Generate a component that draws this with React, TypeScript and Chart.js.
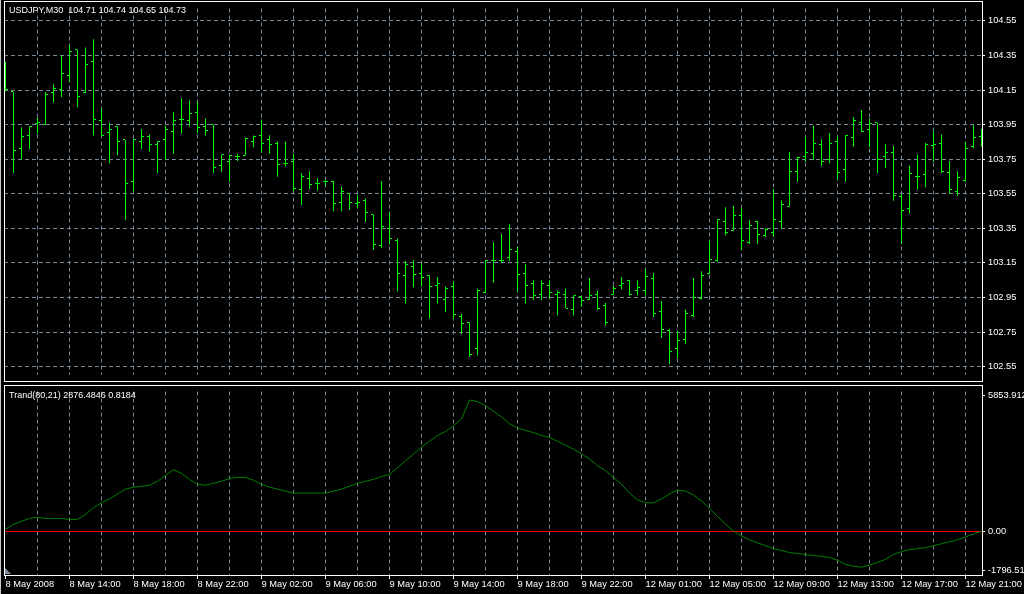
import React, { useEffect, useRef } from 'react';
import { Chart, registerables } from 'chart.js';

Chart.register(...registerables);

// ---------- DATA ----------
const symbolTitle = 'USDJPY,M30  104.71 104.74 104.65 104.73';
const indicatorTitle = 'Trand(80,21) 2876.4846 0.8184';

const opens = [
  104.30, 104.139, 103.809, 103.889, 103.957, 103.950, 104.133, 104.152, 104.235, 104.383,
  104.133, 104.313, 103.972, 103.902, 103.939, 103.861, 103.622, 103.852, 103.883, 103.833,
  103.861, 103.911, 103.981, 103.972, 104.022, 103.939, 103.948, 103.713, 103.739, 103.763,
  103.772, 103.852, 103.889, 103.861, 103.841, 103.726, 103.739, 103.572, 103.639, 103.611,
  103.620, 103.619, 103.500, 103.550, 103.491, 103.513, 103.430, 103.250, 103.350, 103.281,
  103.078, 103.128, 103.087, 103.078, 103.017, 102.939, 103.013, 102.841, 102.806, 102.652,
  102.976, 103.165, 103.165, 103.180, 103.217, 103.091, 103.028, 102.969, 103.019, 102.969,
  102.969, 102.878, 102.954, 102.939, 102.969, 102.902, 102.969, 103.017, 103.050, 102.991,
  102.991, 103.059, 102.869, 102.757, 102.652, 102.707, 102.846, 102.943, 103.091, 103.161,
  103.389, 103.337, 103.426, 103.269, 103.387, 103.309, 103.328, 103.389, 103.476, 103.676,
  103.763, 103.781, 103.833, 103.750, 103.850, 103.689, 103.874, 103.961, 103.924, 103.961,
  103.763, 103.791, 103.532, 103.463, 103.652, 103.661, 103.828, 103.841, 103.674, 103.565,
  103.628, 103.824, 103.883,
];
const highs = [
  104.313, 104.139, 103.935, 103.939, 103.989, 104.139, 104.183, 104.350, 104.411, 104.383,
  104.396, 104.444, 104.044, 103.961, 103.939, 103.861, 103.865, 103.924, 103.893, 103.852,
  103.943, 104.022, 104.102, 104.091, 104.083, 103.985, 103.948, 103.776, 103.776, 103.781,
  103.874, 103.887, 103.980, 103.889, 103.852, 103.852, 103.781, 103.670, 103.680, 103.639,
  103.633, 103.624, 103.591, 103.550, 103.541, 103.522, 103.430, 103.624, 103.444, 103.291,
  103.161, 103.167, 103.148, 103.078, 103.069, 103.013, 103.044, 102.856, 102.806, 103.000,
  103.167, 103.269, 103.319, 103.374, 103.244, 103.143, 103.050, 103.050, 103.050, 102.991,
  103.000, 102.961, 102.961, 103.063, 102.991, 102.920, 103.017, 103.069, 103.050, 103.050,
  103.115, 103.091, 102.930, 102.767, 102.757, 102.880, 103.063, 103.102, 103.276, 103.402,
  103.472, 103.480, 103.467, 103.398, 103.393, 103.350, 103.578, 103.513, 103.791, 103.763,
  103.878, 103.943, 103.865, 103.902, 103.880, 103.889, 103.994, 104.035, 103.985, 103.961,
  103.837, 103.828, 103.550, 103.713, 103.776, 103.843, 103.911, 103.893, 103.739, 103.680,
  103.850, 103.948, 103.924,
];
const lows = [
  104.143, 103.670, 103.750, 103.809, 103.898, 103.950, 104.078, 104.109, 104.198, 104.050,
  104.133, 103.887, 103.883, 103.726, 103.772, 103.398, 103.565, 103.809, 103.794, 103.670,
  103.744, 103.781, 103.898, 103.939, 103.902, 103.887, 103.670, 103.676, 103.620, 103.739,
  103.772, 103.819, 103.787, 103.781, 103.648, 103.707, 103.565, 103.485, 103.578, 103.569,
  103.596, 103.448, 103.448, 103.457, 103.467, 103.387, 103.226, 103.235, 103.257, 102.985,
  102.915, 103.009, 103.013, 102.828, 102.915, 102.865, 102.828, 102.739, 102.606, 102.615,
  102.976, 103.035, 103.152, 103.161, 102.985, 102.915, 102.935, 102.935, 102.944, 102.846,
  102.889, 102.846, 102.896, 102.935, 102.878, 102.787, 102.967, 102.998, 102.963, 102.963,
  102.961, 102.837, 102.717, 102.565, 102.600, 102.680, 102.837, 102.939, 103.087, 103.156,
  103.309, 103.337, 103.226, 103.259, 103.259, 103.300, 103.300, 103.350, 103.476, 103.620,
  103.735, 103.744, 103.711, 103.726, 103.633, 103.620, 103.822, 103.907, 103.819, 103.670,
  103.698, 103.509, 103.259, 103.435, 103.574, 103.587, 103.735, 103.670, 103.550, 103.537,
  103.620, 103.813, 103.822,
];
const closes = [
  104.152, 103.800, 103.883, 103.939, 103.961, 104.124, 104.161, 104.244, 104.374, 104.113,
  104.300, 103.981, 103.889, 103.924, 103.852, 103.611, 103.861, 103.883, 103.837, 103.852,
  103.920, 103.972, 103.981, 104.013, 103.935, 103.915, 103.704, 103.776, 103.772, 103.763,
  103.869, 103.883, 103.841, 103.837, 103.722, 103.726, 103.578, 103.652, 103.602, 103.611,
  103.620, 103.491, 103.561, 103.500, 103.500, 103.439, 103.259, 103.361, 103.291, 103.089,
  103.141, 103.080, 103.067, 103.011, 103.030, 103.000, 102.850, 102.800, 102.619, 102.989,
  103.161, 103.161, 103.165, 103.230, 103.080, 103.019, 102.963, 103.030, 102.980, 102.980,
  102.889, 102.961, 102.930, 102.963, 102.889, 102.806, 103.002, 103.030, 102.967, 103.009,
  103.069, 102.856, 102.767, 102.639, 102.702, 102.856, 102.952, 103.078, 103.167, 103.402,
  103.328, 103.426, 103.278, 103.365, 103.313, 103.341, 103.402, 103.489, 103.676, 103.757,
  103.791, 103.843, 103.739, 103.843, 103.670, 103.887, 103.972, 103.911, 103.955, 103.750,
  103.791, 103.537, 103.454, 103.665, 103.652, 103.837, 103.837, 103.680, 103.572, 103.643,
  103.813, 103.874, 103.900,
];
const trandValues = [
  117, 320, 442, 564, 605, 564, 564, 564, 524, 524,
  727, 1012, 1215, 1378, 1582, 1785, 1866, 1907, 1948, 2111,
  2355, 2599, 2436, 2192, 1988, 1948, 2029, 2111, 2233, 2273,
  2273, 2151, 1988, 1866, 1785, 1704, 1622, 1622, 1622, 1622,
  1622, 1704, 1785, 1907, 2029, 2111, 2192, 2314, 2395, 2680,
  2965, 3250, 3535, 3779, 4023, 4186, 4430, 4715, 5500, 5440,
  5260, 5040, 4796, 4511, 4348, 4226, 4145, 4023, 3942, 3779,
  3616, 3453, 3250, 3046, 2762, 2558, 2273, 1988, 1622, 1337,
  1215, 1215, 1378, 1582, 1744, 1704, 1541, 1297, 971, 646,
  320, 35, -168, -331, -453, -575, -697, -778, -860, -901,
  -941, -982, -1023, -1063, -1185, -1348, -1430, -1470, -1389, -1267,
  -1145, -941, -819, -738, -697, -656, -575, -494, -413, -331,
  -209, -87, 35,
];
const zeroLevel = 0;
const priceTicks = [104.55, 104.35, 104.15, 103.95, 103.75, 103.55, 103.35, 103.15, 102.95, 102.75, 102.55];
const indicatorMax = 5853.912;
const indicatorMin = -1796.51;
const indicatorTickLabels = ['5853.912', '0.00', '-1796.51'];
const timeLabels = [
  '8 May 2008', '8 May 14:00', '8 May 18:00', '8 May 22:00', '9 May 02:00', '9 May 06:00',
  '9 May 10:00', '9 May 14:00', '9 May 18:00', '9 May 22:00', '12 May 01:00', '12 May 05:00',
  '12 May 09:00', '12 May 13:00', '12 May 17:00', '12 May 21:00',
];

// ---------- LAYOUT / STYLE ----------
const W = 1024;
const TOP_H = 384;
const BOT_TOP = 383;
const BOT_H = 594 - BOT_TOP;
const AREA_LEFT = 4;
const AXIS_W = 42;
const AREA_RIGHT = W - AXIS_W;
const BAR_PX = 8;
const FIRST_BAR_CENTER = 5.5;
const LABEL_EVERY = 8;
const GRID_EVERY = 4;
const GRID_DASH = [4, 3];

const BAR_COLOR = '#00ff00';
const GRID_COLOR = '#778899';
const TEXT_FONT = '"Liberation Sans", Arial, sans-serif';
const AXIS_FONT = { family: TEXT_FONT, size: 9.3 };

const barIndex = opens.map((_, i) => i);
const xMin = (AREA_LEFT - FIRST_BAR_CENTER) / BAR_PX;
const xMax = xMin + (AREA_RIGHT - AREA_LEFT) / BAR_PX;

// price scale: 104.55 sits at y = 14.7, 178.6 px per unit, area 2..381
const PRICE_PX = 178.6;
const priceMax = 104.55 + (14.7 - 2) / PRICE_PX;
const priceMin = priceMax - (381 - 2) / PRICE_PX;

const gridTickValues = barIndex.filter((i) => i % GRID_EVERY === 0);

function tickImage(side: 'open' | 'close') {
  const c = document.createElement('canvas');
  c.width = 5;
  c.height = 1;
  const g = c.getContext('2d')!;
  g.fillStyle = BAR_COLOR;
  g.fillRect(side === 'open' ? 0 : 3, 0, 2, 1);
  return c;
}

const crispPlugin = {
  id: 'crisp',
  beforeDatasetsDraw(chart: any) {
    chart.ctx.imageSmoothingEnabled = false;
  },
};

function framePlugin(top: number, bottom: number) {
  return {
    id: 'frame',
    afterDraw(chart: any) {
      const ctx = chart.ctx;
      ctx.save();
      ctx.fillStyle = '#ffffff';
      ctx.fillRect(AREA_LEFT, top, AREA_RIGHT - AREA_LEFT + 1, 1);
      ctx.fillRect(AREA_LEFT, bottom, AREA_RIGHT - AREA_LEFT + 1, 1);
      ctx.fillRect(AREA_LEFT, top, 1, bottom - top + 1);
      ctx.fillRect(AREA_RIGHT, top, 1, bottom - top + 1);
      ctx.restore();
    },
  };
}

const zeroLinePlugin = {
  id: 'zeroLine',
  beforeDatasetsDraw(chart: any) {
    const y = chart.scales.y.getPixelForValue(zeroLevel);
    const ctx = chart.ctx;
    ctx.save();
    ctx.fillStyle = '#ff0000';
    ctx.fillRect(chart.chartArea.left, Math.round(y - 0.5), chart.chartArea.right - chart.chartArea.left, 1);
    ctx.restore();
  },
};

const xGridColor = (ctx: any) => (ctx.tick && ctx.tick.value === 0 ? 'rgba(0,0,0,0)' : GRID_COLOR);

export default function App() {
  const topRef = useRef<HTMLCanvasElement>(null);
  const botRef = useRef<HTMLCanvasElement>(null);

  useEffect(() => {
    const openImg = tickImage('open');
    const closeImg = tickImage('close');

    const top = new Chart(topRef.current!, {
      type: 'bar',
      data: {
        datasets: [
          {
            type: 'bar',
            data: barIndex.map((i) => ({ x: i, y: [lows[i], highs[i]] })),
            backgroundColor: BAR_COLOR,
            borderColor: BAR_COLOR,
            borderWidth: 0,
            barThickness: 1,
            grouped: false,
            inflateAmount: 0,
          } as any,
          {
            type: 'scatter',
            data: barIndex.map((i) => ({ x: i, y: opens[i] })),
            pointStyle: openImg,
            pointRadius: 3,
            showLine: false,
          } as any,
          {
            type: 'scatter',
            data: barIndex.map((i) => ({ x: i, y: closes[i] })),
            pointStyle: closeImg,
            pointRadius: 3,
            showLine: false,
          } as any,
        ],
      },
      options: {
        animation: false,
        responsive: false,
        devicePixelRatio: 1,
        events: [],
        layout: { padding: { left: AREA_LEFT, top: 2, right: 0, bottom: TOP_H - 381 }, autoPadding: false } as any,
        plugins: { legend: { display: false }, tooltip: { enabled: false } },
        scales: {
          x: {
            type: 'linear',
            min: xMin,
            max: xMax,
            offset: false,
            ticks: { display: false },
            grid: { offset: false, color: xGridColor, drawTicks: false, lineWidth: 1 },
            border: { display: false, dash: GRID_DASH },
            afterBuildTicks: (s: any) => {
              s.ticks = gridTickValues.map((v) => ({ value: v }));
            },
            afterFit: (s: any) => {
              s.height = 0;
            },
          },
          y: {
            type: 'linear',
            position: 'right',
            min: priceMin,
            max: priceMax,
            ticks: {
              color: '#ffffff',
              font: AXIS_FONT,
              padding: 3,
              callback: (v: any) => Number(v).toFixed(2),
            },
            grid: { color: GRID_COLOR, tickColor: '#ffffff', tickLength: 3, tickBorderDash: [] } as any,
            border: { display: false, dash: GRID_DASH },
            afterBuildTicks: (s: any) => {
              s.ticks = priceTicks.map((v) => ({ value: v }));
            },
            afterFit: (s: any) => {
              s.width = AXIS_W;
            },
          },
        },
      } as any,
      plugins: [crispPlugin, framePlugin(1, 381)],
    });

    const bottom = new Chart(botRef.current!, {
      type: 'line',
      data: {
        datasets: [
          {
            data: barIndex.map((i) => ({ x: i, y: trandValues[i] })),
            borderColor: '#008000',
            borderWidth: 1,
            pointRadius: 0,
            tension: 0,
          },
        ],
      },
      options: {
        animation: false,
        responsive: false,
        devicePixelRatio: 1,
        events: [],
        layout: { padding: { left: AREA_LEFT, top: 386 - BOT_TOP, right: 0, bottom: 0 }, autoPadding: false } as any,
        plugins: { legend: { display: false }, tooltip: { enabled: false } },
        scales: {
          x: {
            type: 'linear',
            min: xMin,
            max: xMax,
            offset: false,
            ticks: {
              color: '#ffffff',
              font: AXIS_FONT,
              padding: 0,
              align: 'start',
              maxRotation: 0,
              minRotation: 0,
              autoSkip: false,
              callback: (v: any) => (Number(v) % LABEL_EVERY === 0 ? timeLabels[Number(v) / LABEL_EVERY] : ''),
            },
            grid: {
              offset: false,
              color: xGridColor,
              tickColor: (ctx: any) => (ctx.tick && ctx.tick.value % LABEL_EVERY === 0 ? '#ffffff' : 'rgba(0,0,0,0)'),
              tickLength: 4,
              tickBorderDash: [],
            } as any,
            border: { display: false, dash: GRID_DASH },
            afterBuildTicks: (s: any) => {
              s.ticks = gridTickValues.map((v) => ({ value: v }));
            },
            afterFit: (s: any) => {
              s.height = 594 - 575;
            },
          },
          y: {
            type: 'linear',
            position: 'right',
            min: indicatorMin,
            max: indicatorMax,
            ticks: {
              color: '#ffffff',
              font: AXIS_FONT,
              padding: 3,
              callback: (_v: any, idx: number) => indicatorTickLabels[idx],
            },
            grid: { drawOnChartArea: false, tickColor: '#ffffff', tickLength: 3 },
            border: { display: false },
            afterBuildTicks: (s: any) => {
              const u = (s.max - s.min) / (575 - 386);
              s.ticks = [{ value: s.max - 4 * u }, { value: zeroLevel }, { value: s.min + 5 * u }];
            },
            afterFit: (s: any) => {
              s.width = AXIS_W;
            },
          },
        },
      } as any,
      plugins: [zeroLinePlugin, framePlugin(385 - BOT_TOP, 575 - BOT_TOP)],
    });

    return () => {
      top.destroy();
      bottom.destroy();
    };
  }, []);

  const textStyle: React.CSSProperties = {
    position: 'absolute',
    left: 9,
    color: '#ffffff',
    fontFamily: TEXT_FONT,
    fontSize: 9,
    lineHeight: '11px',
    whiteSpace: 'pre',
  };

  return (
    <div style={{ position: 'fixed', left: 0, top: 0, width: W, height: 594, background: '#000000', overflow: 'hidden' }}>
      <canvas ref={topRef} width={W} height={TOP_H} style={{ position: 'absolute', left: 0, top: 0 }} />
      <canvas ref={botRef} width={W} height={BOT_H} style={{ position: 'absolute', left: 0, top: BOT_TOP }} />
      <div style={{ position: 'absolute', left: 0, top: 0, width: 1, height: 594, background: '#c8c8c8' }} />
      <div
        style={{
          position: 'absolute',
          left: 5,
          top: 568,
          width: 0,
          height: 0,
          borderBottom: '6px solid #7f8fa0',
          borderRight: '6px solid transparent',
        }}
      />
      <div style={{ ...textStyle, top: 5 }}>{symbolTitle}</div>
      <div style={{ ...textStyle, top: 390 }}>{indicatorTitle}</div>
    </div>
  );
}
